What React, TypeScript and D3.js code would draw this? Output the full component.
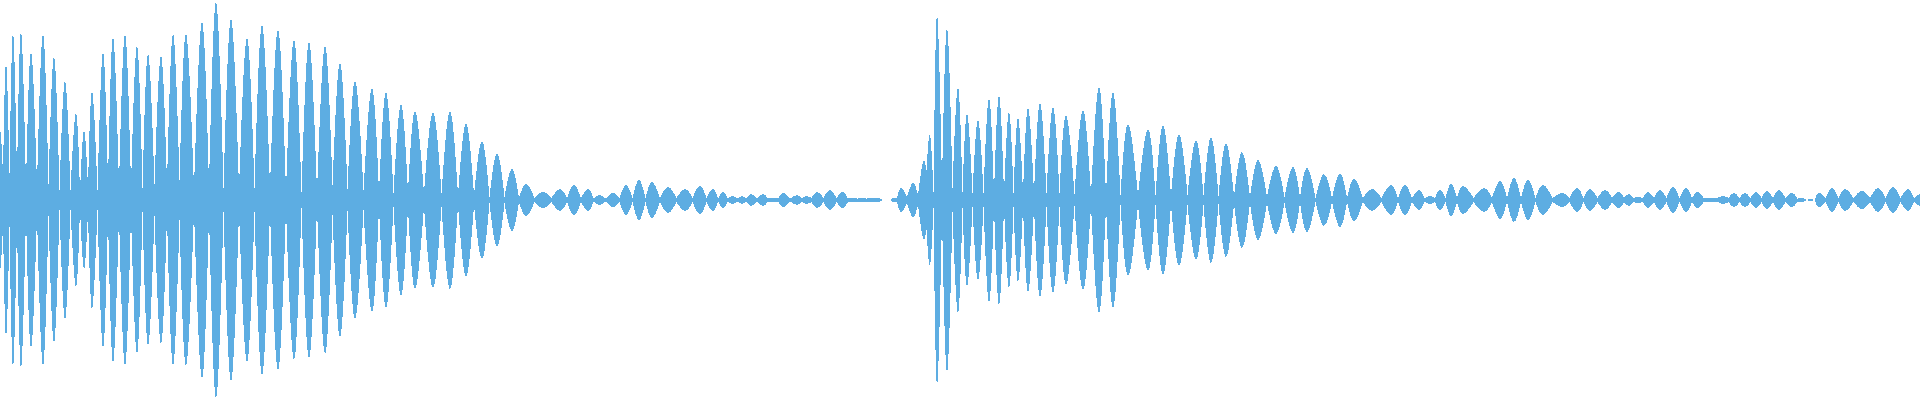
import React, { useMemo } from "react";
import * as d3 from "d3";

// Waveform envelope: each lobe has a peak position (x, in samples),
// a peak amplitude, and the amplitude of the trough just before it.
const W = 1920;
const H = 400;
const AMP_MAX = 200;
const COLOR = "#5DADE2";

// Segment A: first burst
const peaksA = [0, 6, 13, 21, 31, 43, 54, 65, 76, 84, 92, 103, 113, 125, 137, 148, 161, 173, 186, 202, 216, 231, 247, 262, 278, 294, 309, 325, 340, 355, 372, 386, 401];
const ampsA = [70, 137, 167, 168, 148, 166, 143, 119, 87, 69, 109, 148, 163, 166, 154, 146, 144, 166, 166, 178, 198, 181, 162, 175, 170, 160, 158, 154, 137, 119, 112, 108, 96];
const troughsA = [25, 25, 27, 23, 15, 16, 16, 10, 10, 8, 12, 10, 17, 15, 15, 12, 16, 16, 20, 12, 15, 12, 12, 12, 12, 10, 8, 8, 15, 11, 10, 8, 7];

// Segment B: decay of first burst
const peaksB = [415, 433, 450, 466, 482, 497, 512, 526, 543, 560, 574, 588, 599, 613, 626, 639, 652, 668, 685, 700, 713, 723, 733, 742, 751, 763, 773, 783, 797];
const ampsB = [89, 88, 89, 77, 59, 47, 31, 16, 8, 11, 15, 11, 5, 7, 15, 20, 18, 13, 11, 14, 11, 8, 4, 4, 6, 6, 2, 7, 5];
const troughsB = [8, 7, 7, 5, 5, 3, 3, 2, 2, 2, 2, 2, 1.5, 1.5, 2, 2, 2, 2, 2, 2, 2, 1.5, 1.5, 1.5, 1.5, 1.5, 1.5, 1.5, 1.5];

// Segment C: silence and second burst
const peaksC = [806, 817, 830, 843, 853, 862, 871, 879, 887, 893, 901, 913, 923, 930, 937, 947, 958, 967, 978, 989, 999, 1009, 1018, 1028, 1040, 1053, 1066, 1083, 1099, 1113, 1128, 1148, 1163, 1179, 1196];
const ampsC = [4, 8, 10, 8, 2, 2.5, 2, 2, 0, 2, 12, 17, 38, 65, 185, 172, 113, 86, 80, 102, 105, 88, 82, 92, 97, 93, 85, 90, 113, 108, 76, 71, 75, 66, 60];
const troughsC = [1.5, 2, 2, 2, 1.5, 1.5, 1.5, 1.5, 0, 0, 1.5, 3, 5, 30, 8, 17, 12, 8, 7, 7, 7, 7, 7, 7, 7, 7, 7, 6, 6, 6, 5, 5, 5, 5, 5];

// Segment D: decay of second burst
const peaksD = [1211, 1226, 1242, 1258, 1276, 1293, 1307, 1324, 1340, 1354, 1372, 1391, 1405, 1419, 1430, 1440, 1451, 1463, 1484, 1500, 1514, 1528, 1543, 1562, 1577, 1590];
const ampsD = [63, 57, 48, 40, 34, 33, 32, 26, 27, 21, 11, 15, 15, 10, 4, 10, 16, 14, 12, 19, 22, 20, 15, 7, 12, 11];
const troughsD = [5, 4, 4, 3, 3, 3, 3, 2, 2, 2, 2, 2, 2, 2, 2, 2, 2, 2, 2, 2, 2, 2, 2, 2, 2, 2];

// Segment E: tail
const peaksE = [1605, 1619, 1629, 1638, 1648, 1660, 1673, 1686, 1698, 1710, 1723, 1734, 1745, 1756, 1767, 1779, 1792, 1803, 1810, 1819, 1832, 1845, 1862, 1878, 1893, 1908, 1920];
const ampsE = [10, 8, 6, 3, 8, 10, 13, 12, 8, 2, 4, 7, 7, 8, 9, 10, 7, 2, 1, 7, 12, 11, 9, 12, 13, 11, 6];
const troughsE = [2, 2, 2, 2, 2, 2, 2, 2, 2, 1.5, 1.5, 2, 2, 2, 2, 2, 2, 1.5, 0, 0, 2, 2, 2, 2, 2, 2, 2];
const endTrough = 2;

type P = { x: number; a: number };

export default function App() {
  const paths = useMemo(() => {
    const peaks = [...peaksA, ...peaksB, ...peaksC, ...peaksD, ...peaksE];
    const amps = [...ampsA, ...ampsB, ...ampsC, ...ampsD, ...ampsE];
    const troughs = [...troughsA, ...troughsB, ...troughsC, ...troughsD, ...troughsE, endTrough];

    const x = d3.scaleLinear().domain([0, W]).range([0, W]);
    const y = d3.scaleLinear().domain([-AMP_MAX, AMP_MAX]).range([H, 0]);

    const n = peaks.length;
    const tx: number[] = [];
    tx.push(peaks[0] - (peaks[1] - peaks[0]) / 2);
    for (let i = 1; i < n; i++) tx.push((peaks[i - 1] + peaks[i]) / 2);
    tx.push(peaks[n - 1] + (peaks[n - 1] - peaks[n - 2]) / 2);

    const area = d3
      .area<P>()
      .x((d) => x(d.x))
      .y0((d) => y(-d.a))
      .y1((d) => y(d.a))
      .curve(d3.curveNatural);

    const out: string[] = [];
    for (let i = 0; i < n; i++) {
      const pts: P[] = [
        { x: tx[i], a: troughs[i] },
        { x: peaks[i], a: amps[i] },
        { x: tx[i + 1], a: troughs[i + 1] },
      ];
      if (amps[i] <= 0 && troughs[i] <= 0 && troughs[i + 1] <= 0) continue;
      out.push(area(pts) || "");
    }
    return out;
  }, []);

  return (
    <svg
      width={W}
      height={H}
      style={{ position: "absolute", left: 0, top: 0, display: "block", background: "#fff" }}
    >
      <g fill={COLOR} shapeRendering="crispEdges">
        {paths.map((d, i) => (
          <path key={i} d={d} />
        ))}
      </g>
    </svg>
  );
}
